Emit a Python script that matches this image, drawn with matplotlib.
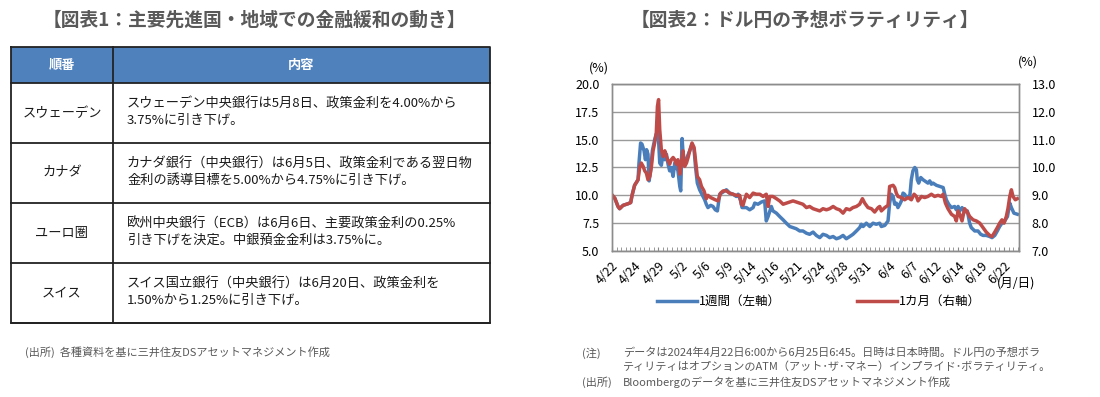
import matplotlib
matplotlib.use("Agg")
import matplotlib.pyplot as plt
from matplotlib.patches import Rectangle
from matplotlib.ticker import MultipleLocator, FixedLocator

plt.rcParams["font.family"] = ["Noto Sans CJK JP", "DejaVu Sans"]

# 図表1 のデータ
countries = ["スウェーデン", "カナダ", "ユーロ圏", "スイス"]
contents = [
    "スウェーデン中央銀行は5月8日、政策金利を4.00%から\n3.75%に引き下げ。",
    "カナダ銀行（中央銀行）は6月5日、政策金利である翌日物\n金利の誘導目標を5.00%から4.75%に引き下げ。",
    "欧州中央銀行（ECB）は6月6日、主要政策金利の0.25%\n引き下げを決定。中銀預金金利は3.75%に。",
    "スイス国立銀行（中央銀行）は6月20日、政策金利を\n1.50%から1.25%に引き下げ。",
]
header = ["順番", "内容"]

# 図表2 のデータ（横軸は目盛ラベルの間隔を1とした位置）
date_labels = ["4/22", "4/24", "4/29", "5/2", "5/6", "5/9", "5/14", "5/16", "5/21",
               "5/24", "5/28", "5/31", "6/4", "6/7", "6/12", "6/14", "6/19", "6/22"]

# 1週間（左軸）
week_t = [0.00, 0.12, 0.26, 0.33, 0.48, 0.70, 0.81, 0.87, 0.98, 1.13, 1.17, 1.24, 1.30, 1.39,
          1.45, 1.50, 1.56, 1.61, 1.68, 1.75, 1.85, 1.92, 2.00, 2.07, 2.14, 2.21, 2.29, 2.36,
          2.43, 2.50, 2.57, 2.65, 2.72, 2.79, 2.86, 2.94, 2.98, 3.04, 3.09, 3.15, 3.27, 3.37,
          3.47, 3.56, 3.62, 3.70, 3.80, 3.90, 4.02, 4.09, 4.16, 4.28, 4.38, 4.48, 4.57, 4.67,
          4.82, 4.96, 5.10, 5.25, 5.39, 5.47, 5.58, 5.64, 5.75,
          5.83, 5.97, 6.12, 6.19, 6.33, 6.48, 6.62, 6.69, 6.77, 6.91, 6.98, 7.13, 7.27, 7.42,
          7.56, 7.71, 7.85, 7.99, 8.14, 8.28, 8.43, 8.57, 8.72, 8.86, 9.01, 9.15, 9.30, 9.44,
          9.59, 9.73, 9.87, 10.02, 10.16, 10.31, 10.45, 10.60, 10.74, 10.81, 10.89, 11.03,
          11.18, 11.32, 11.46, 11.61,
          11.68, 11.83, 11.97, 12.04, 12.11, 12.19, 12.26, 12.33, 12.40, 12.48, 12.55, 12.62,
          12.69, 12.77, 12.84, 12.91, 12.98, 13.05, 13.13, 13.20, 13.24, 13.30, 13.39, 13.49,
          13.56, 13.70, 13.78, 13.85, 13.92, 14.07, 14.21, 14.36, 14.43, 14.50, 14.60, 14.72,
          14.86, 14.93, 15.01, 15.08, 15.18, 15.29, 15.41, 15.51, 15.58, 15.73, 15.87, 15.99,
          16.09, 16.23, 16.38, 16.48, 16.60, 16.71, 16.81, 16.91, 17.03, 17.15, 17.25, 17.32,
          17.43, 17.58]
week_v = [9.9, 9.75, 9.0, 8.8, 9.1, 9.25, 9.35, 10.0, 10.9, 11.4, 12.9, 14.7, 14.6, 14.0,
          13.2, 14.1, 13.7, 11.3, 12.3, 14.0, 15.0, 15.5, 15.8, 12.9, 12.7, 13.7, 13.2, 13.7,
          12.8, 12.2, 12.5, 11.7, 12.9, 12.6, 12.2, 10.8, 10.4, 15.1, 13.5, 12.8, 13.5, 14.0,
          14.6, 14.1, 12.6, 11.1, 10.5, 10.1, 9.6, 9.2, 8.9, 9.1, 9.0, 8.7, 8.6, 10.1,
          10.3, 10.5, 10.2, 10.1, 9.9, 10.1, 9.5, 8.9, 8.9,
          8.9, 8.7, 8.9, 9.3, 9.2, 9.4, 9.5, 7.7, 8.1, 9.0, 8.6, 8.4, 8.1, 7.8,
          7.5, 7.2, 7.1, 7.0, 6.8, 6.8, 6.6, 6.5, 6.7, 6.4, 6.2, 6.5, 6.4, 6.2,
          6.3, 6.1, 6.2, 6.4, 6.1, 6.3, 6.5, 6.8, 7.1, 7.4, 7.2, 7.5,
          7.2, 7.5, 7.4, 7.5,
          7.2, 7.3, 7.7, 9.3, 10.1, 9.9, 9.2, 9.3, 8.9, 9.2, 9.5, 10.2,
          10.1, 9.8, 9.9, 9.8, 11.4, 12.2, 12.5, 12.3, 11.4, 11.1, 11.6, 11.4,
          11.3, 11.1, 11.3, 11.0, 11.1, 10.9, 10.8, 10.7, 10.1, 9.6, 9.2, 8.9,
          9.0, 8.7, 9.0, 8.6, 8.9, 8.5, 8.6, 7.5, 7.1, 6.8, 6.8, 6.5,
          6.4, 6.4, 6.3, 6.2, 6.4, 6.8, 7.2, 7.5, 7.7, 8.1, 9.3, 8.9,
          8.4, 8.3]

# 1カ月（右軸）
month_t = [0.00, 0.12, 0.26, 0.33, 0.48, 0.70, 0.81, 0.87, 0.98, 1.13, 1.20, 1.27, 1.35, 1.42,
           1.49, 1.56, 1.64, 1.71, 1.78, 1.85, 1.92, 1.97, 2.02, 2.07, 2.14, 2.21, 2.29, 2.36,
           2.43, 2.50, 2.57, 2.65, 2.72, 2.79, 2.86, 2.94, 3.01, 3.08, 3.15, 3.23, 3.30, 3.37,
           3.47, 3.56, 3.62, 3.70, 3.80, 3.88, 3.99, 4.09, 4.16, 4.28, 4.38, 4.48, 4.60, 4.71,
           4.82, 4.96, 5.10, 5.25, 5.39, 5.54, 5.61, 5.68, 5.75,
           5.83, 5.97, 6.12, 6.26, 6.41, 6.55, 6.69, 6.77, 6.84, 6.98, 7.13, 7.27, 7.42, 7.56,
           7.71, 7.85, 7.99, 8.14, 8.28, 8.43, 8.57, 8.72, 8.86, 9.01, 9.15, 9.30, 9.44, 9.59,
           9.73, 9.87, 10.02, 10.16, 10.31, 10.45, 10.60, 10.74, 10.86, 10.96, 11.10, 11.25,
           11.39, 11.54, 11.61,
           11.68, 11.83, 11.97, 12.04, 12.19, 12.26, 12.33, 12.40, 12.55, 12.69, 12.84, 12.98,
           13.10, 13.20, 13.27, 13.42, 13.56, 13.70, 13.85, 13.99, 14.14, 14.28, 14.36, 14.46,
           14.57, 14.72, 14.86, 14.93, 15.01, 15.08, 15.18, 15.29, 15.41, 15.51, 15.66, 15.80,
           15.95, 16.09, 16.23, 16.38, 16.48, 16.60, 16.71, 16.81, 16.91, 17.00, 17.10, 17.17,
           17.25, 17.32, 17.39, 17.49, 17.58]
month_v = [9.02, 8.90, 8.60, 8.52, 8.64, 8.70, 8.74, 9.00, 9.36, 9.56, 10.00, 10.16, 10.04, 9.88,
           9.80, 9.56, 9.68, 10.04, 10.60, 10.88, 11.24, 12.20, 12.44, 11.36, 10.64, 10.40, 10.60, 10.40,
           10.24, 10.12, 10.28, 10.36, 10.28, 10.12, 10.28, 9.76, 10.16, 10.60, 10.04, 10.16, 10.36, 10.60,
           10.88, 10.72, 10.28, 9.68, 9.56, 9.32, 9.16, 8.88, 9.00, 8.92, 8.88, 8.84, 8.80, 9.08,
           9.16, 9.16, 9.08, 9.04, 9.00, 9.00, 8.68, 8.64, 8.84,
           9.04, 8.92, 9.08, 9.04, 9.04, 8.96, 9.04, 8.60, 8.96, 8.96, 8.88, 8.80, 8.68, 8.72,
           8.76, 8.80, 8.76, 8.72, 8.68, 8.56, 8.60, 8.52, 8.48, 8.44, 8.52, 8.48, 8.52, 8.60,
           8.52, 8.48, 8.36, 8.52, 8.48, 8.56, 8.60, 8.68, 8.88, 8.72, 8.56, 8.52,
           8.40, 8.56, 8.60,
           8.44, 8.56, 8.64, 9.32, 9.36, 9.28, 9.08, 8.96, 8.92, 8.84, 8.92, 8.84,
           9.04, 8.96, 8.80, 8.96, 8.92, 8.96, 9.04, 8.96, 9.00, 8.96, 9.04, 8.72,
           8.52, 8.32, 8.24, 8.08, 8.44, 8.32, 8.08, 8.52, 8.40, 8.24, 8.12, 8.08,
           8.00, 7.84, 7.68, 7.56, 7.52, 7.68, 7.84, 8.00, 8.12, 8.00, 8.24, 8.52,
           8.96, 9.20, 8.96, 8.84, 8.88]

title_color = "#595959"
note_color = "#595959"
blue = "#4A7EBB"
red = "#BE4B48"

fig = plt.figure(figsize=(11, 3.97), dpi=100)

# ---- 図表1: 表（ピクセル座標の全面axesに描く）----
bg = fig.add_axes([0, 0, 1, 1])
bg.set_xlim(0, 1100)
bg.set_ylim(397, 0)
bg.axis("off")

bg.text(254, 20, "【図表1：主要先進国・地域での金融緩和の動き】", ha="center", va="center",
        fontsize=13.5, fontweight="bold", color=title_color)
bg.text(805, 20, "【図表2：ドル円の予想ボラティリティ】", ha="center", va="center",
        fontsize=13.5, fontweight="bold", color=title_color)

tab_l, tab_r, col_x = 11, 490, 113
head_top, head_bot = 47, 83
row_h = 60
bg.add_patch(Rectangle((tab_l, head_top), tab_r - tab_l, head_bot - head_top,
                       facecolor="#4F81BD", edgecolor="none"))
bg.text((tab_l + col_x) / 2, (head_top + head_bot) / 2, header[0], ha="center", va="center",
        color="white", fontsize=9.5, fontweight="bold")
bg.text((col_x + tab_r) / 2, (head_top + head_bot) / 2, header[1], ha="center", va="center",
        color="white", fontsize=9.5, fontweight="bold")

for i, (c, txt) in enumerate(zip(countries, contents)):
    y0 = head_bot + i * row_h
    yc = y0 + row_h / 2
    bg.text((tab_l + col_x) / 2, yc, c, ha="center", va="center", fontsize=9.5, color="#1a1a1a")
    bg.text(127, yc - 1, txt, ha="left", va="center", fontsize=9.5, color="#1a1a1a",
            linespacing=1.25)
    bg.plot([tab_l, tab_r], [y0 + row_h, y0 + row_h], color="#222222", lw=1.3)

tab_b = head_bot + row_h * len(countries)
bg.plot([tab_l, tab_r, tab_r, tab_l, tab_l], [head_top, head_top, tab_b, tab_b, head_top],
        color="#222222", lw=1.3)
bg.plot([tab_l, tab_r], [head_bot, head_bot], color="#222222", lw=1.3)
bg.plot([col_x, col_x], [head_top, tab_b], color="#222222", lw=1.3)

bg.text(25, 352, "(出所)  各種資料を基に三井住友DSアセットマネジメント作成", ha="left", va="center",
        fontsize=8, color=note_color)

# 図表2 の注記
bg.text(582, 353, "(注)", ha="left", va="center", fontsize=8, color=note_color)
bg.text(623, 353, "データは2024年4月22日6:00から6月25日6:45。日時は日本時間。ドル円の予想ボラ",
        ha="left", va="center", fontsize=8, color=note_color)
bg.text(623, 367, "ティリティはオプションのATM（アット･ザ･マネー）インプライド･ボラティリティ。",
        ha="left", va="center", fontsize=8, color=note_color)
bg.text(582, 382, "(出所)", ha="left", va="center", fontsize=8, color=note_color)
bg.text(623, 382, "Bloombergのデータを基に三井住友DSアセットマネジメント作成",
        ha="left", va="center", fontsize=8, color=note_color)

# ---- 図表2: 折れ線 ----
ax = fig.add_axes([612 / 1100, 1 - 251 / 397, 407 / 1100, 167 / 397])
ax2 = ax.twinx()

ax.plot(week_t, week_v, color=blue, lw=2.5, solid_joinstyle="round")
ax2.plot(month_t, month_v, color=red, lw=2.5, solid_joinstyle="round")

ax.set_xlim(0, 17.65)
ax.set_ylim(5, 20)
ax2.set_ylim(7, 13)
ax.yaxis.set_major_locator(MultipleLocator(2.5))
ax2.yaxis.set_major_locator(MultipleLocator(1))
ax.set_yticklabels([f"{v:.1f}" for v in ax.get_yticks()])
ax2.set_yticklabels([f"{v:.1f}" for v in ax2.get_yticks()])
ax.grid(axis="y", color="#9a9a9a", lw=1)
ax.set_axisbelow(True)

ax.xaxis.set_major_locator(FixedLocator(range(len(date_labels))))
ax.set_xticklabels(date_labels, rotation=45, ha="right", rotation_mode="anchor")
ax.xaxis.set_minor_locator(MultipleLocator(0.2))
ax.tick_params(axis="x", which="both", direction="in", length=3, color="#888888",
               labelsize=9, pad=6)
ax.tick_params(axis="y", length=0, labelsize=9, pad=9)
ax2.tick_params(axis="y", length=0, labelsize=9, pad=9)
for a in (ax, ax2):
    for s in a.spines.values():
        s.set_color("#8c8c8c")
        s.set_linewidth(1)

bg.text(599, 68, "(%)", ha="center", va="center", fontsize=9)
bg.text(1028, 62, "(%)", ha="center", va="center", fontsize=9)
bg.text(1016, 283, "(月/日)", ha="center", va="center", fontsize=9)

# 凡例
bg.plot([657, 697], [301, 301], color=blue, lw=2.5)
bg.text(699, 301, "1週間（左軸）", ha="left", va="center", fontsize=9)
bg.plot([857, 897], [301, 301], color=red, lw=2.5)
bg.text(899, 301, "1カ月（右軸）", ha="left", va="center", fontsize=9)

fig.savefig("out.png", dpi=100)
